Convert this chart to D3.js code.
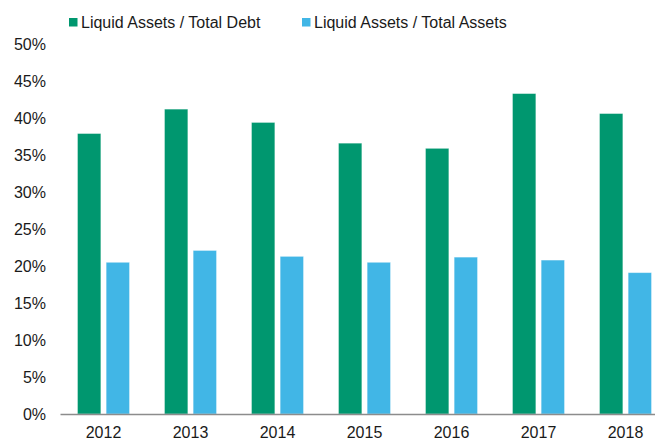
<!DOCTYPE html>
<html>
<head>
<meta charset="utf-8">
<script src="https://cdn.jsdelivr.net/npm/d3@7"></script>
<style>
	body { margin: 0; background: #fff; }
	svg { display: block; font-family: "Liberation Sans", Arial, sans-serif; }
	.axis text { font-size: 16px; fill: #1a1a1a; }
	.legend text { font-size: 16px; fill: #1a1a1a; }
</style>
</head>
<body>
<svg id="chart" width="655" height="440"></svg>
<script>
var years = ["2012", "2013", "2014", "2015", "2016", "2017", "2018"];
var seriesNames = ["Liquid Assets / Total Debt", "Liquid Assets / Total Assets"];
var debtRatio = [0.379, 0.412, 0.394, 0.366, 0.359, 0.433, 0.406];
var assetRatio = [0.205, 0.221, 0.213, 0.205, 0.212, 0.208, 0.191];
var yTicks = [0, 0.05, 0.10, 0.15, 0.20, 0.25, 0.30, 0.35, 0.40, 0.45, 0.50];
var colors = ["#00976f", "#41b6e6"];

var svg = d3.select("#chart");

// Шкалы
var x0 = d3.scaleBand().domain(years).range([60, 669]).padding(0);
var x1 = d3.scaleBand().domain(seriesNames).range([17.5, 69.5]).paddingInner(0.185);
var y = d3.scaleLinear().domain([0, 0.5]).range([414, 44]);

// Ось y (только подписи)
var yAxis = svg.append("g")
	.attr("class", "axis")
	.attr("transform", "translate(46,0)")
	.call(d3.axisLeft(y).tickValues(yTicks).tickSize(0).tickPadding(0)
		.tickFormat(function(d) { return Math.round(d * 100) + "%"; }));
yAxis.select(".domain").remove();
yAxis.selectAll("text").attr("dy", "0.36em");

// Столбики
var rows = years.map(function(yr, i) {
	return { year: yr, values: [debtRatio[i], assetRatio[i]] };
});

var group = svg.append("g").selectAll("g")
	.data(rows)
	.enter().append("g")
	.attr("transform", function(d) { return "translate(" + x0(d.year) + ",0)"; });

group.selectAll("rect")
	.data(function(d) { return d.values.map(function(v, j) { return { name: seriesNames[j], v: v, c: colors[j] }; }); })
	.enter().append("rect")
	.attr("x", function(d) { return x1(d.name); })
	.attr("y", function(d) { return y(d.v); })
	.attr("width", x1.bandwidth())
	.attr("height", function(d) { return y(0) - y(d.v); })
	.attr("fill", function(d) { return d.c; })
	.attr("stroke", "#ffffff")
	.attr("stroke-opacity", 0.45)
	.attr("stroke-width", 0.8);

// Ось x
var xAxis = svg.append("g")
	.attr("class", "axis")
	.attr("transform", "translate(0," + y(0) + ")")
	.call(d3.axisBottom(x0).tickSize(0).tickPadding(13));
xAxis.select(".domain").attr("stroke", "#8c8c8c").attr("stroke-width", 1.3);
xAxis.selectAll("text").attr("dy", "0.71em");

// Легенда
var legendX = [69, 302];
var legend = svg.append("g").attr("class", "legend")
	.selectAll("g")
	.data(seriesNames)
	.enter().append("g")
	.attr("transform", function(d, i) { return "translate(" + legendX[i] + ",0)"; });

legend.append("rect")
	.attr("x", 0)
	.attr("y", 18)
	.attr("width", 8.5)
	.attr("height", 8.5)
	.attr("fill", function(d, i) { return colors[i]; });

legend.append("text")
	.attr("x", 12)
	.attr("y", 27.5)
	.text(function(d) { return d; });
</script>
</body>
</html>
